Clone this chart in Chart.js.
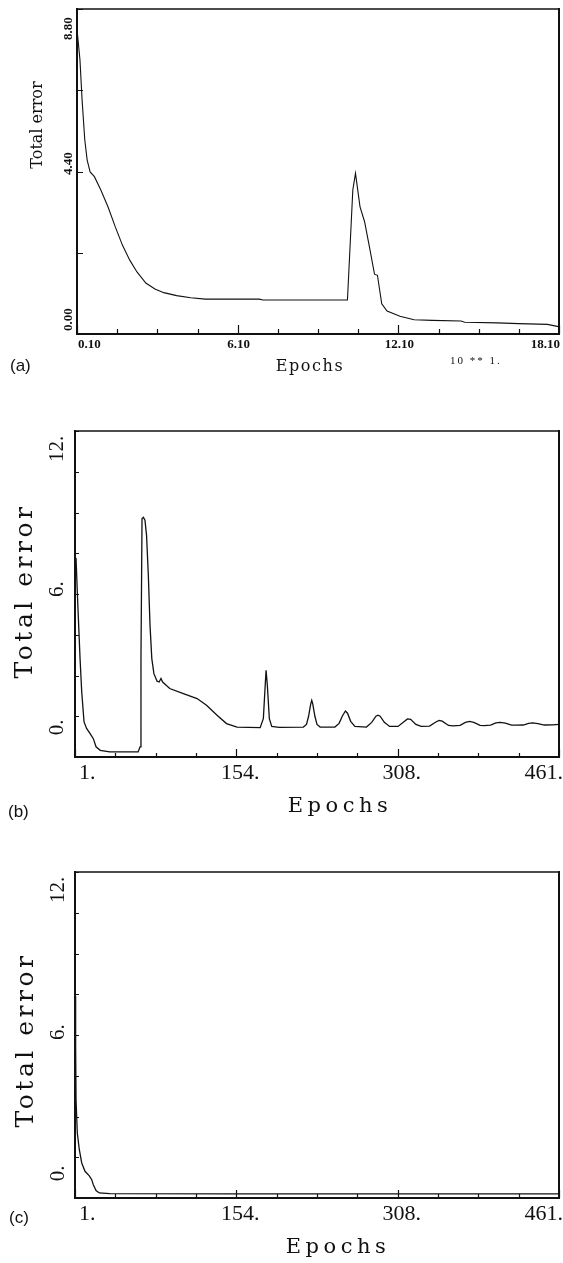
<!DOCTYPE html>
<html><head><meta charset="utf-8">
<script src="https://cdn.jsdelivr.net/npm/chart.js@4.4.0/dist/chart.umd.min.js"></script>
<style>
html,body{margin:0;padding:0;background:#fff;width:563px;height:1263px;overflow:hidden;position:relative}
.wrap{position:absolute;left:0;width:563px}
.tag{position:absolute;font-family:"Liberation Sans",Arial,sans-serif;font-size:17px;line-height:17px;color:#111}
</style></head><body>
<div class="wrap" style="top:0;height:400px"><canvas id="ca" width="563" height="400"></canvas></div>
<div class="wrap" style="top:400px;height:420px"><canvas id="cb" width="563" height="420"></canvas></div>
<div class="wrap" style="top:820px;height:443px"><canvas id="cc" width="563" height="443"></canvas></div>
<div class="tag" style="left:10px;top:357px">(a)</div>
<div class="tag" style="left:8px;top:803px">(b)</div>
<div class="tag" style="left:9px;top:1209px">(c)</div>
<script>
// ---------- data ----------
// Panel (a): epochs in units of 10 (axis multiplier "10 ** 1.")
const epochsA = [0.1,0.21,0.29,0.39,0.48,0.59,0.75,0.99,1.26,1.53,1.80,2.07,2.34,2.67,3.01,3.34,3.82,4.35,4.89,6.91,7.04,10.20,10.40,10.50,10.67,10.84,11.01,11.21,11.32,11.48,11.68,12.16,12.69,13.37,14.44,14.58,15.79,16.59,17.67,18.08];
const errorsA = [8.25,7.43,6.34,5.26,4.71,4.39,4.26,3.90,3.44,2.90,2.40,2.00,1.68,1.38,1.22,1.12,1.04,0.98,0.945,0.945,0.92,0.92,3.90,4.35,3.44,3.04,2.40,1.62,1.59,0.82,0.62,0.48,0.385,0.37,0.35,0.32,0.30,0.28,0.26,0.20];
const xTickLabelsA = ["0.10","6.10","12.10","18.10"];
const yTickValuesA = [0,4.4,8.8];
const yTickLabelsA = ["0.00","4.40","8.80"];

// Panel (b)
const epochsB = [1,2,3.2,4.1,5.8,7.4,9.6,12,16,18.4,21,25,34,61,62.8,63.7,64.7,66,67.5,69,70.7,72.3,74,76,79,81,82.7,84.3,91,104,117,126,136,145,155,177,180,181.6,182.6,183.8,185.7,188,195,218,221,223,225,226,227,229,231,234,248,252,255,258,260,263,267,278,283,287,289,291,295,300,308,313,317,320,325,330,338,344,347,350,356,360,367,372,376,380,386,390,396,401,405,410,416,421,427,432,436,441,447,455,461];
const errorsB = [7.8,7.74,6.10,4.95,2.83,1.19,-0.28,-0.6,-0.9,-1.1,-1.5,-1.67,-1.75,-1.75,-1.5,2.83,9.70,9.76,9.62,8.88,6.92,4.46,2.83,2.09,1.72,1.68,1.85,1.68,1.36,1.11,0.87,0.54,0.05,-0.36,-0.53,-0.56,-0.12,1.36,2.26,1.52,-0.12,-0.5,-0.55,-0.53,-0.4,0.0,0.6,0.78,0.6,0.0,-0.4,-0.53,-0.53,-0.35,0.0,0.26,0.15,-0.25,-0.5,-0.53,-0.3,0.0,0.05,0.0,-0.3,-0.5,-0.5,-0.3,-0.13,-0.15,-0.4,-0.5,-0.48,-0.28,-0.2,-0.24,-0.45,-0.47,-0.45,-0.3,-0.25,-0.3,-0.45,-0.46,-0.44,-0.33,-0.3,-0.34,-0.44,-0.44,-0.43,-0.35,-0.33,-0.36,-0.43,-0.42,-0.4];

// Panel (c)
const epochsC = [1,1.6,2,3.2,5.1,7.4,10.5,14.6,16.9,18.4,21,24.1,34,150,300,461];
const errorsC = [7.9,5.5,2.8,1.19,0.37,-0.28,-0.69,-0.91,-1.10,-1.35,-1.63,-1.75,-1.79,-1.8,-1.8,-1.8];

const xTickLabelsBC = ["1.","154.","308.","461."];
const yTickValuesBC = [0,6,12];
const yTickLabelsBC = ["0.","6.","12."];

const yTitle = "Total error";
const xTitle = "Epochs";
const multiplierA = "10 ** 1.";

// ---------- drawing helpers ----------
const SERIF = '"Liberation Serif", "Times New Roman", serif';
const TSERIF = '"DejaVu Serif", serif';

function drawText(ctx, t) {
  ctx.save();
  ctx.font = t.font;
  ctx.fillStyle = '#111';
  if ('letterSpacing' in ctx) ctx.letterSpacing = (t.spacing || 0) + 'px';
  ctx.translate(t.x, t.y);
  if (t.rot) ctx.rotate(t.rot);
  ctx.textAlign = t.align || 'center';
  ctx.textBaseline = t.baseline || 'alphabetic';
  ctx.fillText(t.text, 0, 0);
  ctx.restore();
}

const framePlugin = {
  id: 'frame',
  afterDraw(chart) {
    const p = chart.options.plugins.frame;
    const ctx = chart.ctx, a = chart.chartArea;
    const xs = chart.scales.x, ys = chart.scales.y;
    ctx.save();
    ctx.strokeStyle = '#111';
    ctx.lineCap = 'square';
    // frame
    ctx.lineWidth = 2;
    ctx.beginPath();
    ctx.moveTo(a.left, a.top); ctx.lineTo(a.left, a.bottom); ctx.lineTo(a.right, a.bottom); ctx.lineTo(a.right, a.top);
    ctx.stroke();
    ctx.lineWidth = 1.4;
    ctx.beginPath(); ctx.moveTo(a.left, a.top); ctx.lineTo(a.right, a.top); ctx.stroke();
    // inward ticks
    ctx.lineWidth = 1.2;
    ctx.lineCap = 'butt';
    ctx.beginPath();
    xs.ticks.forEach((t, i) => {
      const px = Math.round(xs.getPixelForValue(t.value)) + 0.5;
      const len = (i % 4 === 0) ? p.major : p.minor;
      ctx.moveTo(px, a.bottom); ctx.lineTo(px, a.bottom - len);
    });
    ys.ticks.forEach(t => {
      const py = Math.round(ys.getPixelForValue(t.value)) + 0.5;
      ctx.moveTo(a.left, py); ctx.lineTo(a.left + p.ytick, py);
    });
    ctx.stroke();
    ctx.restore();
    // rotated y tick labels
    p.yValues.forEach((v, i) => {
      drawText(ctx, {
        text: p.yLabels[i], font: p.yFont, x: p.yBaseX,
        y: ys.getPixelForValue(v) + p.yOffsets[i],
        rot: -Math.PI / 2, align: p.yAlign
      });
    });
    // titles & extra texts
    p.texts.forEach(t => drawText(ctx, t));
  }
};

function makeChart(id, cfg) {
  const canvas = document.getElementById(id);
  const W = canvas.width, H = canvas.height;
  return new Chart(canvas, {
    type: 'line',
    data: {
      datasets: [{
        data: cfg.epochs.map((e, i) => ({ x: e, y: cfg.errors[i] })),
        borderColor: '#111', borderWidth: cfg.lw, pointRadius: 0, tension: 0, fill: false
      }]
    },
    options: {
      responsive: false, animation: false, devicePixelRatio: 1,
      layout: { padding: { top: cfg.area.top, right: W - cfg.area.right, left: 0, bottom: 0 } },
      plugins: { legend: { display: false }, tooltip: { enabled: false }, frame: cfg.frame },
      scales: {
        x: {
          type: 'linear', min: cfg.xMin, max: cfg.xMax,
          grid: { display: false, drawTicks: false }, border: { display: false },
          ticks: {
            stepSize: (cfg.xMax - cfg.xMin) / 12, autoSkip: false, maxRotation: 0, minRotation: 0,
            align: 'inner', labelOffset: cfg.xLabelOffset, padding: cfg.xPad,
            color: '#111', font: cfg.xFont,
            callback: (v, i) => (i % 4 === 0 ? cfg.xLabels[i / 4] : '')
          },
          afterFit: s => { s.height = H - cfg.area.bottom; }
        },
        y: {
          type: 'linear', min: cfg.yMin, max: cfg.yMax,
          grid: { display: false, drawTicks: false }, border: { display: false },
          ticks: { stepSize: cfg.yStep, display: false },
          afterFit: s => { s.width = cfg.area.left; }
        }
      }
    },
    plugins: [framePlugin]
  });
}

// ---------- panel (a) ----------
makeChart('ca', {
  epochs: epochsA, errors: errorsA, lw: 1.1,
  area: { left: 77, top: 9, right: 559, bottom: 334 },
  xMin: 0.1, xMax: 18.1, yMin: 0, yMax: 8.8, yStep: 2.2,
  xLabels: xTickLabelsA, xLabelOffset: 1, xPad: 3,
  xFont: { family: SERIF, size: 13, weight: 'bold' },
  frame: {
    major: 9, minor: 5, ytick: 6,
    yValues: yTickValuesA, yLabels: yTickLabelsA,
    yFont: 'bold 13px ' + SERIF, yBaseX: 72, yAlign: 'left', yOffsets: [-3, 3.5, 31],
    texts: [
      { text: yTitle, font: '16px ' + TSERIF, spacing: 0, x: 42, y: 125, rot: -Math.PI / 2 },
      { text: xTitle, font: '16px ' + TSERIF, spacing: 1.6, x: 310, y: 371 },
      { text: multiplierA, font: '11px ' + SERIF, spacing: 2, x: 450, y: 364, align: 'left' }
    ]
  }
});

// ---------- panel (b) ----------
makeChart('cb', {
  epochs: epochsB, errors: errorsB, lw: 1.3,
  area: { left: 75, top: 31, right: 559, bottom: 357 },
  xMin: 1, xMax: 461, yMin: -2, yMax: 14, yStep: 2,
  xLabels: xTickLabelsBC, xLabelOffset: 4, xPad: 3,
  xFont: { family: SERIF, size: 22 },
  frame: {
    major: 8, minor: 4, ytick: 4,
    yValues: yTickValuesBC, yLabels: yTickLabelsBC,
    yFont: '21px ' + SERIF, yBaseX: 63, yAlign: 'center', yOffsets: [11, -5, -23],
    texts: [
      { text: yTitle, font: '25px ' + TSERIF, spacing: 3.5, x: 32, y: 191, rot: -Math.PI / 2 },
      { text: xTitle, font: '21px ' + TSERIF, spacing: 4.5, x: 340, y: 412 }
    ]
  }
});

// ---------- panel (c) ----------
makeChart('cc', {
  epochs: epochsC, errors: errorsC, lw: 1.3,
  area: { left: 75, top: 52, right: 559, bottom: 378 },
  xMin: 1, xMax: 461, yMin: -2, yMax: 14, yStep: 2,
  xLabels: xTickLabelsBC, xLabelOffset: 4, xPad: 3,
  xFont: { family: SERIF, size: 22 },
  frame: {
    major: 8, minor: 4, ytick: 4,
    yValues: yTickValuesBC, yLabels: yTickLabelsBC,
    yFont: '21px ' + SERIF, yBaseX: 64, yAlign: 'center', yOffsets: [16, -3, -23],
    texts: [
      { text: yTitle, font: '25px ' + TSERIF, spacing: 3.5, x: 33, y: 220, rot: -Math.PI / 2 },
      { text: xTitle, font: '21px ' + TSERIF, spacing: 4.5, x: 338, y: 433 }
    ]
  }
});
</script>
</body></html>
